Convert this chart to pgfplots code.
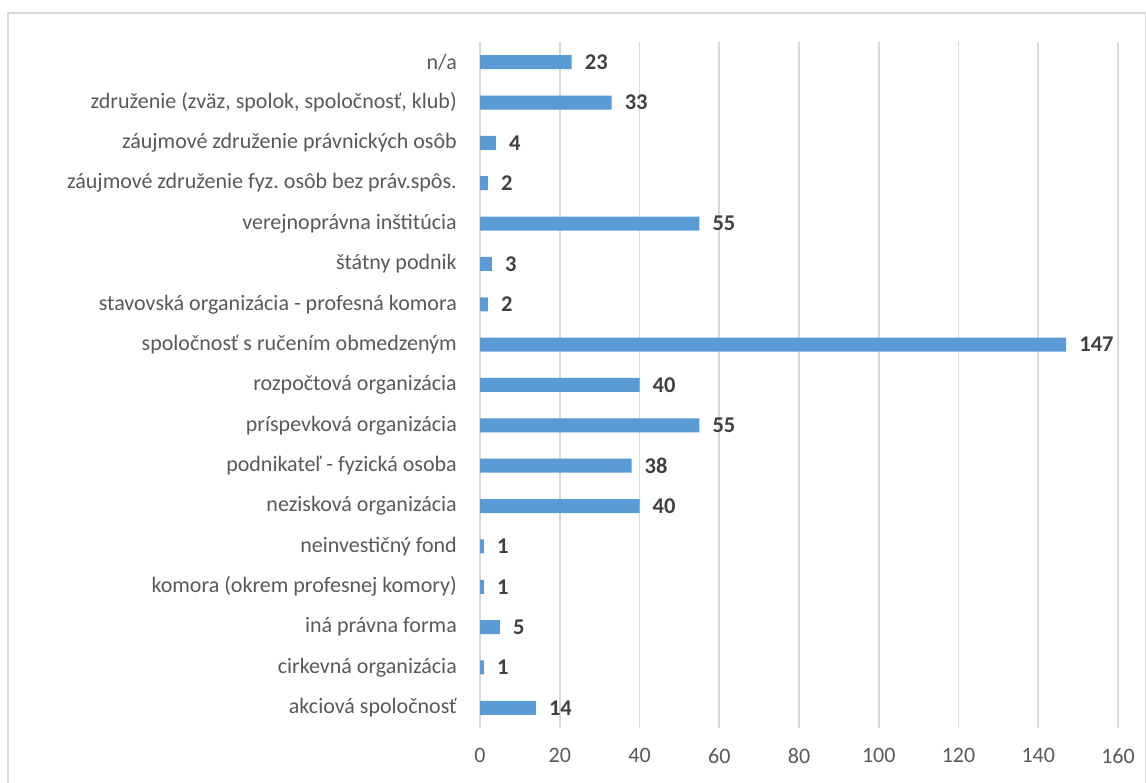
\documentclass[border=0pt]{standalone}
\usepackage{pgfplots}
\pgfplotsset{compat=1.18}
\usepackage{fontspec}
\setmainfont{Carlito}
\frenchspacing
\definecolor{barblue}{HTML}{5B9BD5}
\definecolor{gridgray}{HTML}{D9D9D9}
\definecolor{ticktxt}{HTML}{595959}
\definecolor{valtxt}{HTML}{404040}
\begin{document}
\begin{tikzpicture}[x=1pt,y=1pt]
\useasboundingbox (0,0) rectangle (1146,783);
\draw[gridgray, line width=1.5pt] (8,-20) rectangle (1145.5,770);
\begin{axis}[
  at={(480pt,55pt)}, anchor=south west,
  scale only axis, width=638pt, height=686pt,
  xbar, bar width=14pt,
  xmin=0, xmax=160, ymin=-0.5, ymax=16.5,
  xtick={0,20,...,160},
  ytick={0,...,16},
  yticklabels={akciová spoločnosť, cirkevná organizácia, iná právna forma, komora (okrem profesnej komory), neinvestičný fond, nezisková organizácia, podnikateľ - fyzická osoba, príspevková organizácia, rozpočtová organizácia, spoločnosť s ručením obmedzeným, stavovská organizácia - profesná komora, štátny podnik, verejnoprávna inštitúcia, záujmové združenie fyz. osôb bez práv.spôs., záujmové združenie právnických osôb, {združenie (zväz, spolok, spoločnosť, klub)}, n/a},
  axis lines=left,
  axis line style={draw=none},
  xmajorgrids, grid style={gridgray, line width=1.8pt},
  major tick length=0pt,
  tick label style={font=\fontsize{22}{26}\selectfont, text=ticktxt},
  /pgf/number format/assume math mode=true,
  yticklabel style={inner sep=0pt, anchor=east, xshift=-23pt},
  xticklabel style={inner sep=0pt, anchor=north, yshift=-20pt},
  nodes near coords,
  every node near coord/.append style={font=\fontsize{22.5}{26}\selectfont\bfseries, text=valtxt, anchor=west, inner sep=0pt, xshift=13pt},
]
\addplot[fill=barblue, draw=none] coordinates {
(14,0) (1,1) (5,2) (1,3) (1,4) (40,5) (38,6) (55,7) (40,8) (147,9) (2,10) (3,11) (55,12) (2,13) (4,14) (33,15) (23,16)
};
\end{axis}
\end{tikzpicture}
\end{document}
